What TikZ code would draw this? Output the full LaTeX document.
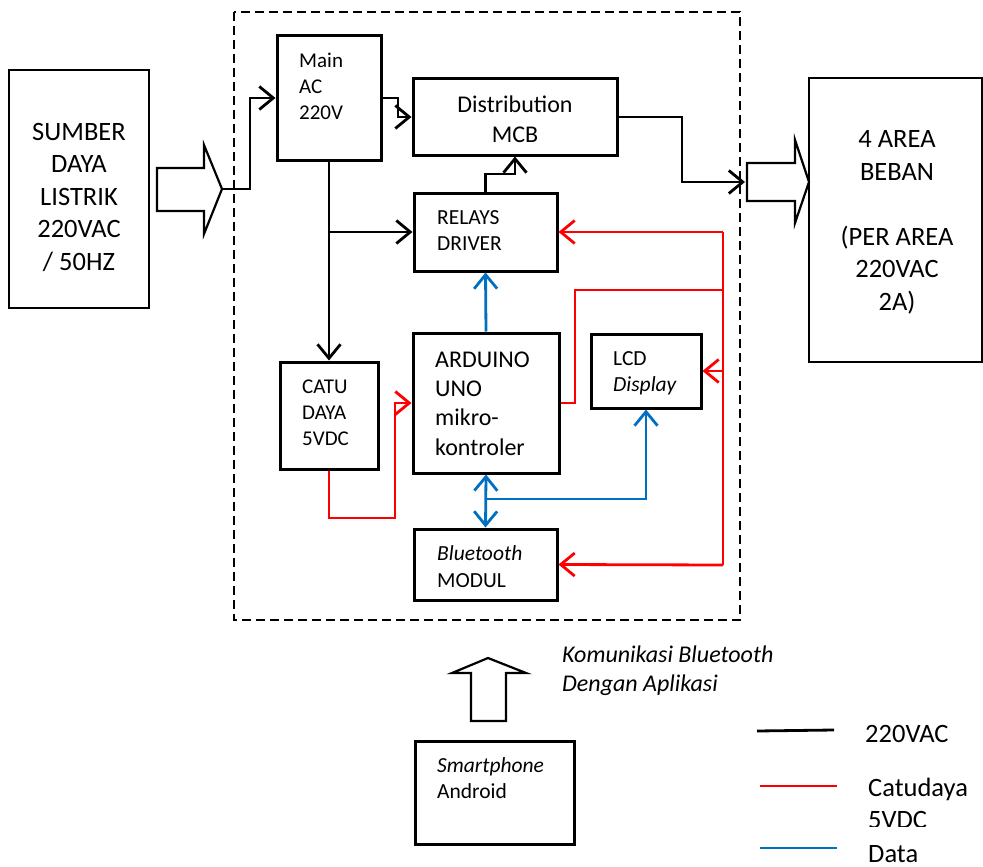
\documentclass[tikz,border=0pt]{standalone}
\usepackage{fontspec}
\setmainfont{Carlito}
\usetikzlibrary{arrows.meta}
\definecolor{dblue}{RGB}{0,112,192}
\tikzset{barbtip/.tip={Straight Barb[length=14pt,width=23pt,line width=2.8pt]}}
\begin{document}
\begin{tikzpicture}[x=1pt,y=-1pt,
  box/.style={draw,line width=3pt,inner sep=0pt},
  sbox/.style={draw,line width=2.6pt,inner sep=0pt},
  txt/.style={inner sep=0pt,anchor=base west,align=left},
  ctxt/.style={inner sep=0pt,anchor=base,align=center},
  wire/.style={line width=2.8pt,-barbtip},
  wireplain/.style={line width=2.8pt},
  hollow/.style={draw,line width=2.2pt,fill=white,line join=miter}]
\useasboundingbox (0,0) rectangle (983,867);
% dashed enclosure
\draw[line width=2.3pt,dash pattern=on 9pt off 5pt] (234,12) rectangle (740,620);
% boxes (text nodes anchored at the baseline of their last line)
\node[sbox,minimum width=140pt,minimum height=238pt] (sumber) at (79,189) {};
\node[ctxt,font=\fontsize{26.5}{32.5}\selectfont] (sumberT) at (79,270) {SUMBER\\DAYA\\LISTRIK\\220VAC\\/ 50HZ};
\node[box,minimum width=104pt,minimum height=124pt] (main) at (329,98) {};
\node[txt,font=\fontsize{21}{26}\selectfont] (mainT) at (299,119) {Main\\AC\\220V};
\node[box,minimum width=204pt,minimum height=76pt] (dist) at (515,117) {};
\node[ctxt,font=\fontsize{24}{29}\selectfont] (distT) at (515,142) {Distribution\\MCB};
\node[box,minimum width=143pt,minimum height=78pt] (relays) at (485.5,232) {};
\node[txt,font=\fontsize{21.5}{26}\selectfont] (relaysT) at (437,250) {RELAYS\\DRIVER};
\node[box,minimum width=98pt,minimum height=107pt] (catu) at (329,415.5) {};
\node[txt,font=\fontsize{21}{26}\selectfont] (catuT) at (302,445) {CATU\\DAYA\\5VDC};
\node[box,minimum width=146pt,minimum height=140pt] (arduino) at (486,403) {};
\node[txt,font=\fontsize{24}{29.3}\selectfont] (arduinoT) at (435,455) {ARDUINO\\UNO\\mikro-\\kontroler};
\node[box,minimum width=110pt,minimum height=74pt] (lcd) at (646,371) {};
\node[txt,font=\fontsize{21.5}{26}\selectfont] (lcdT) at (613,391) {LCD\\\textit{Display}};
\node[box,minimum width=143pt,minimum height=71pt] (bt) at (485.5,564.5) {};
\node[txt,font=\fontsize{21.5}{27}\selectfont] (btT) at (437,587) {\textit{Bluetooth}\\MODUL};
\node[sbox,minimum width=173pt,minimum height=284pt] (beban) at (895.5,220) {};
\node[ctxt,font=\fontsize{26.5}{32.5}\selectfont] (bebanT) at (897,310) {4 AREA\\BEBAN\\[32.5pt](PER AREA\\220VAC\\2A)};
\node[box,minimum width=159pt,minimum height=103pt] (phone) at (494.5,792.5) {};
\node[txt,font=\fontsize{21.5}{26}\selectfont] (phoneT) at (437,798) {\textit{Smartphone}\\Android};
\node[txt,font=\fontsize{24}{29}\selectfont\itshape] (komT) at (562,691) {Komunikasi Bluetooth\\Dengan Aplikasi};
% hollow arrows
\draw[hollow] (157,168) -- (204,168) -- (204,145) -- (222,189) -- (204,234) -- (204,211) -- (157,211) -- cycle;
\coordinate (inTip) at (222,189);
\draw[hollow] (747,163) -- (795,163) -- (795,140) -- (809,182) -- (795,223) -- (795,201) -- (747,201) -- cycle;
\coordinate (outIn) at (745,182);
\draw[hollow] (471,721) -- (471,673) -- (452,673) -- (488,658) -- (526,673) -- (506,673) -- (506,721) -- cycle;
% black 220VAC wiring
\draw[wire] (inTip) -- (250,189) |- (main.west);
\draw[wire] (main.east) -- (398,98) -- (398,117) -- (dist.west);
\draw[wire] (dist.east) -- (682,117) |- (outIn);
\draw[wire] (relays.north) |- (515,174) -- (dist.south);
\draw[wire] (main.south) -- (catu.north);
\draw[wire] (main.south |- relays.west) -- (relays.west);
% red 5VDC wiring
\begin{scope}[red]
\draw[wire] (catu.south) |- (395,518) |- (arduino.west);
\draw[wireplain] (arduino.east) -- (575,403) |- (723,290);
\draw[wireplain] (723,232) -- (723,565);
\draw[wire] (723,232) -- (relays.east);
\draw[wire] (723,371) -- (lcd.east);
\draw[wire] (723,565) -- (bt.east);
\end{scope}
% blue data wiring
\begin{scope}[dblue]
\draw[wire] (arduino.north) -- (relays.south);
\draw[line width=2.8pt,barbtip-barbtip] (arduino.south) -- (bt.north);
\draw[wire] (486,499) -| (lcd.south);
\end{scope}
% legend
\draw[line width=2.8pt] (757,731) -- (834,730);
\draw[line width=2.8pt,red] (760,786) -- (837,786);
\draw[line width=2.8pt,dblue] (760,848) -- (837,848);
\node[txt,font=\fontsize{26.5}{30}\selectfont] (lg1) at (865,742) {220VAC};
\node[txt,font=\fontsize{26.5}{30}\selectfont] (lg2) at (868,796) {Catudaya};
\begin{scope}
\clip (855,800) rectangle (983,826);
\node[txt,font=\fontsize{26.5}{30}\selectfont] (lg3) at (868,828) {5VDC};
\end{scope}
\node[txt,font=\fontsize{26.5}{30}\selectfont] (lg4) at (868,862) {Data};
\end{tikzpicture}
\end{document}
